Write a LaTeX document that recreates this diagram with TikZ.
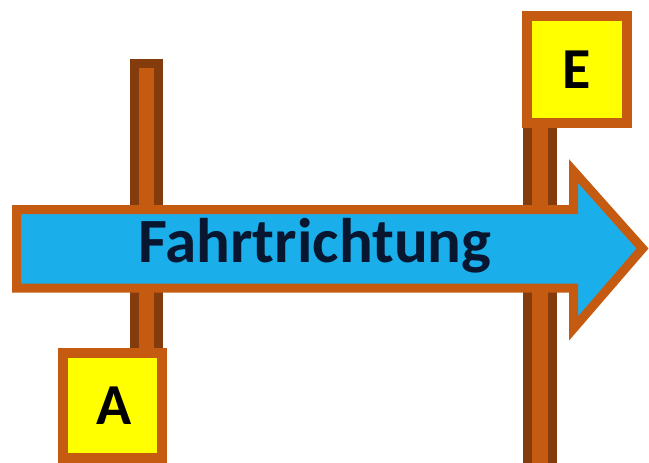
\documentclass[tikz,border=0pt]{standalone}
\usepackage{fontspec}
\setmainfont{Carlito}
\definecolor{arrowblue}{HTML}{1AAFEA}
\definecolor{rim}{HTML}{C55A11}
\definecolor{poledark}{HTML}{843C0C}
\definecolor{signyellow}{HTML}{FFFF00}
\definecolor{textnavy}{HTML}{081630}
\begin{document}
\begin{tikzpicture}[x=1pt,y=-1pt,
  pole/.style={fill=rim,draw=poledark,line width=9pt},
  arrowbody/.style={fill=arrowblue,draw=rim,line width=9pt,line join=miter},
  signbox/.style={rectangle,fill=signyellow,draw=rim,line width=10pt,inner sep=0pt,
    font=\bfseries\fontsize{58}{58}\selectfont,text=black}]
\useasboundingbox (0,0) rectangle (649,463);
% poles
\draw[pole] (134.5,63.5) rectangle (158.5,400);
\draw[pole] (527.5,100) rectangle (552.5,475);
% arrow
\draw[arrowbody] (16.5,209.5) -- (573.5,209.5) -- (573.5,171) -- (642.5,248.5)
  -- (573.5,328.5) -- (573.5,288) -- (16.5,288) -- cycle;
\node[anchor=base,text=textnavy,font=\bfseries\fontsize{63}{63}\selectfont]
  (label) at (315,262) {Fahrtrichtung};
% signs
\node[signbox,minimum width=99pt,minimum height=105pt] (A) at (112,405.5) {\hspace*{4pt}A};
\node[signbox,minimum width=100pt,minimum height=107pt] (E) at (577,69.5) {E};
\end{tikzpicture}
\end{document}
